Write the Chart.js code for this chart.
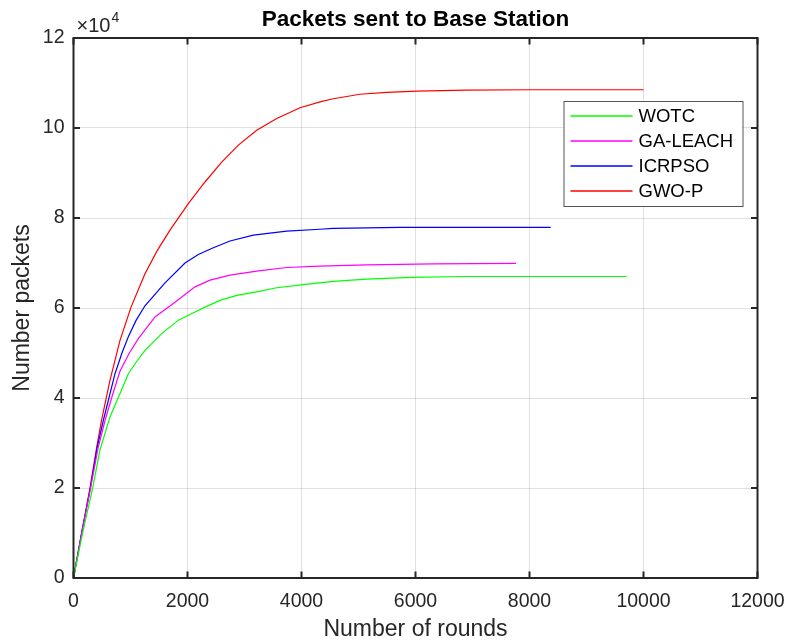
<!DOCTYPE html>
<html>
<head>
<meta charset="utf-8">
<script src="https://cdn.jsdelivr.net/npm/chart.js@4/dist/chart.umd.min.js"></script>
<style>
  html, body { margin: 0; padding: 0; background: #fff; }
</style>
</head>
<body>
<canvas id="myChart" width="789" height="644"></canvas>
<script>
// values (rounds, packets)
const wotcRounds = [0, 160, 336, 465, 640, 816, 962, 1100, 1254, 1547, 1839, 2132, 2307, 2570, 2863, 3214, 3565, 4032, 4558, 5144, 5906, 6898, 9705];
const wotcPackets = [0, 10000, 20000, 28500, 35800, 41000, 45400, 48000, 50600, 54300, 57300, 59100, 60200, 61700, 62800, 63600, 64500, 65200, 65900, 66400, 66800, 67000, 67000];

const gaRounds = [0, 150, 300, 430, 553, 680, 816, 980, 1137, 1430, 1781, 2132, 2395, 2746, 3214, 3740, 4325, 5144, 6312, 7763];
const gaPackets = [0, 10300, 20000, 28800, 35000, 40500, 46000, 50000, 53200, 58000, 61300, 64700, 66200, 67300, 68200, 69000, 69300, 69600, 69800, 69900];

const icrRounds = [0, 145, 295, 415, 523, 728, 850, 962, 1100, 1254, 1605, 1956, 2190, 2453, 2746, 3155, 3740, 4325, 4558, 5728, 8372];
const icrPackets = [0, 10200, 20000, 29000, 35000, 45400, 50000, 53600, 57300, 60500, 65600, 70000, 71900, 73400, 74900, 76200, 77100, 77500, 77700, 77900, 77900];

const gwoRounds = [0, 143, 289, 406, 494, 640, 816, 1009, 1254, 1471, 1693, 2014, 2307, 2600, 2892, 3214, 3565, 3974, 4325, 4558, 5026, 5494, 6021, 6898, 8000, 10000];
const gwoPackets = [0, 10000, 20000, 29000, 35200, 43900, 52800, 60200, 67600, 72800, 77300, 83200, 88000, 92400, 96200, 99500, 102100, 104500, 105800, 106500, 107500, 107900, 108200, 108400, 108500, 108500];

const seriesNames = ['WOTC', 'GA-LEACH', 'ICRPSO', 'GWO-P'];
const seriesColors = ['#00ff00', '#ff00ff', '#0000ff', '#ff0000'];

const xTicks = [0, 2000, 4000, 6000, 8000, 10000, 12000];
const yTicks = [0, 20000, 40000, 60000, 80000, 100000, 120000];

const FONT = '"Liberation Sans", Arial, Helvetica, sans-serif';
const TXT = '#262626';

function pairs(xs, ys) {
    return xs.map((v, i) => ({ x: v, y: ys[i] }));
}

// box with inward ticks, the x10^4 mark and the legend inside the axes
const matlabLook = {
    id: 'matlabLook',
    afterDatasetsDraw(chart) {
        const ctx = chart.ctx;
        const a = chart.chartArea;
        const sx = chart.scales.x, sy = chart.scales.y;
        ctx.save();
        ctx.lineWidth = 2;
        ctx.strokeStyle = TXT;
        ctx.strokeRect(a.left, a.top, a.right - a.left, a.bottom - a.top);
        ctx.beginPath();
        xTicks.forEach(t => {
            const px = sx.getPixelForValue(t);
            ctx.moveTo(px, a.bottom); ctx.lineTo(px, a.bottom - 6.5);
            ctx.moveTo(px, a.top); ctx.lineTo(px, a.top + 6.5);
        });
        yTicks.forEach(t => {
            const py = sy.getPixelForValue(t);
            ctx.moveTo(a.left, py); ctx.lineTo(a.left + 6.5, py);
            ctx.moveTo(a.right, py); ctx.lineTo(a.right - 6.5, py);
        });
        ctx.stroke();

        // exponent
        ctx.fillStyle = TXT;
        ctx.textBaseline = 'alphabetic';
        ctx.textAlign = 'left';
        ctx.font = '20px ' + FONT;
        ctx.fillText('\u00d710', a.left + 3, a.top - 6);
        const w = ctx.measureText('\u00d710').width;
        ctx.font = '14px ' + FONT;
        ctx.fillText('4', a.left + 4 + w, a.top - 16);

        // legend
        const bx = a.right - 15 - 179, by = a.top + 63, bw = 179, bh = 105;
        ctx.fillStyle = '#fff';
        ctx.fillRect(bx, by, bw, bh);
        ctx.lineWidth = 1;
        ctx.strokeStyle = '#555';
        ctx.strokeRect(bx + 0.5, by + 0.5, bw, bh);
        ctx.font = '18.5px ' + FONT;
        ctx.textBaseline = 'middle';
        chart.data.datasets.forEach((ds, i) => {
            const ry = by + 15 + i * 25;
            ctx.strokeStyle = ds.borderColor;
            ctx.lineWidth = 1.5;
            ctx.beginPath();
            ctx.moveTo(bx + 7, ry); ctx.lineTo(bx + 69, ry);
            ctx.stroke();
            ctx.fillStyle = '#000';
            ctx.fillText(ds.label, bx + 75, ry + 1);
        });
        ctx.restore();
    }
};

const allRounds = [wotcRounds, gaRounds, icrRounds, gwoRounds];
const allPackets = [wotcPackets, gaPackets, icrPackets, gwoPackets];

const ctx = document.getElementById('myChart').getContext('2d');
const myChart = new Chart(ctx, {
    type: 'line',
    data: {
        datasets: seriesNames.map((name, i) => ({
            label: name,
            data: pairs(allRounds[i], allPackets[i]),
            borderColor: seriesColors[i],
            backgroundColor: seriesColors[i],
            borderWidth: 1.2,
            pointRadius: 0,
            tension: 0,
            fill: false
        }))
    },
    options: {
        responsive: false,
        animation: false,
        devicePixelRatio: 1,
        layout: { padding: { left: 0, right: 31.5, top: 0, bottom: 0 } },
        plugins: {
            legend: { display: false },
            tooltip: { enabled: false },
            title: {
                display: true,
                text: 'Packets sent to Base Station',
                fullSize: false,
                color: '#000',
                font: { family: FONT, size: 22.5, weight: 'bold' },
                padding: { top: 6, bottom: 5 }
            }
        },
        scales: {
            x: {
                type: 'linear',
                min: 0,
                max: 12000,
                afterBuildTicks: s => { s.ticks = xTicks.map(v => ({ value: v })); },
                afterFit: s => { s.height = 66; s.paddingLeft = 0; s.paddingRight = 0; },
                ticks: { color: TXT, font: { family: FONT, size: 19.5 }, padding: 12, maxRotation: 0, callback: v => String(v) },
                grid: { color: 'rgba(0,0,0,0.12)', drawTicks: false },
                border: { display: false },
                title: {
                    display: true,
                    text: 'Number of rounds',
                    color: TXT,
                    font: { family: FONT, size: 23 },
                    padding: { top: 0, bottom: 1 }
                }
            },
            y: {
                min: 0,
                max: 120000,
                afterBuildTicks: s => { s.ticks = yTicks.map(v => ({ value: v })); },
                afterFit: s => { s.width = 73.5; s.paddingTop = 0; s.paddingBottom = 0; },
                ticks: { color: TXT, font: { family: FONT, size: 19.5 }, padding: 9, callback: v => String(v / 10000) },
                grid: { color: 'rgba(0,0,0,0.12)', drawTicks: false },
                border: { display: false },
                title: {
                    display: true,
                    text: 'Number packets',
                    color: TXT,
                    font: { family: FONT, size: 23 },
                    padding: { top: 8.6, bottom: 0 }
                }
            }
        }
    },
    plugins: [matlabLook]
});
</script>
</body>
</html>
